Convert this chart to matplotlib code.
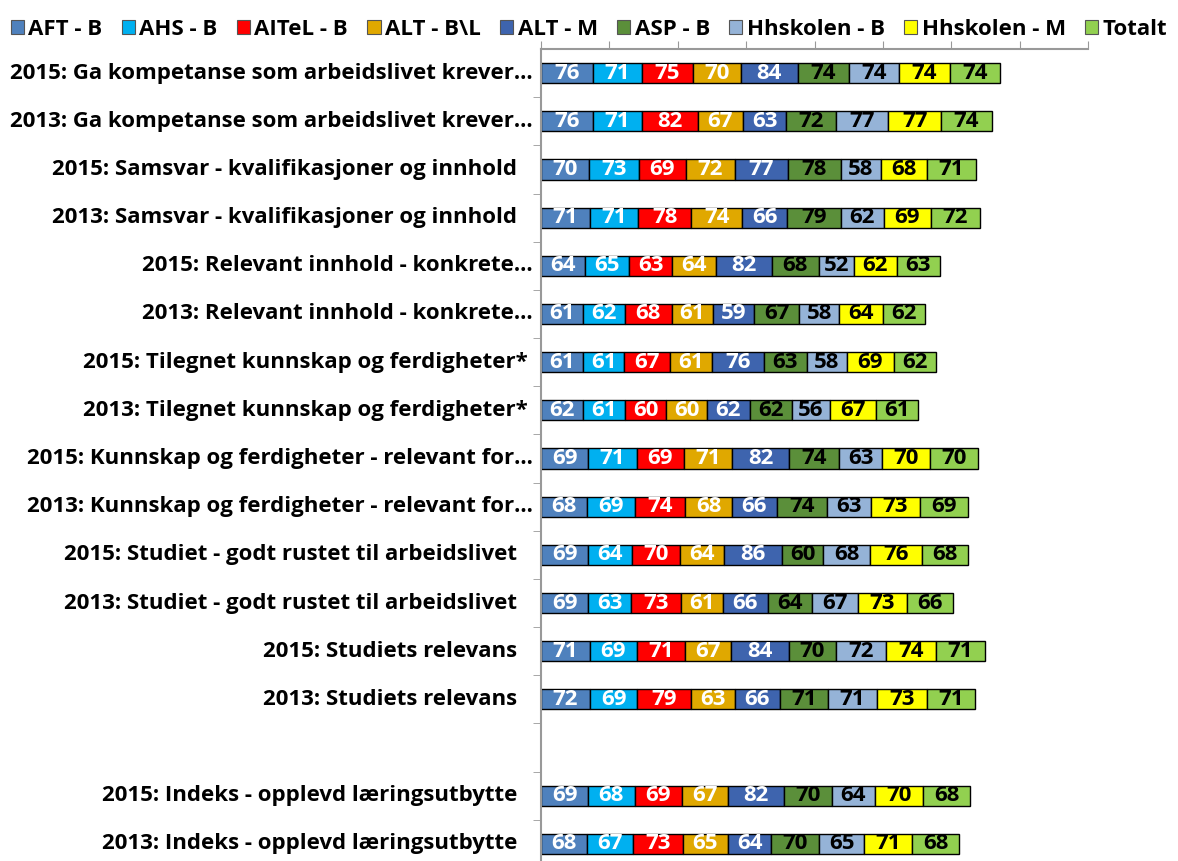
import matplotlib
matplotlib.use('Agg')
import matplotlib.pyplot as plt
from matplotlib.patches import Patch
import numpy as np

plt.rcParams['font.family'] = ['Open Sans', 'DejaVu Sans']
plt.rcParams['font.weight'] = 'bold'

categories = [
    "2015: Ga kompetanse som arbeidslivet krever...",
    "2013: Ga kompetanse som arbeidslivet krever...",
    "2015: Samsvar - kvalifikasjoner og innhold",
    "2013: Samsvar - kvalifikasjoner og innhold",
    "2015: Relevant innhold - konkrete...",
    "2013: Relevant innhold - konkrete...",
    "2015: Tilegnet kunnskap og ferdigheter*",
    "2013: Tilegnet kunnskap og ferdigheter*",
    "2015: Kunnskap og ferdigheter - relevant for...",
    "2013: Kunnskap og ferdigheter - relevant for...",
    "2015: Studiet - godt rustet til arbeidslivet",
    "2013: Studiet - godt rustet til arbeidslivet",
    "2015: Studiets relevans",
    "2013: Studiets relevans",
    "2015: Indeks - opplevd læringsutbytte",
    "2013: Indeks - opplevd læringsutbytte",
]

series = ["AFT - B", "AHS - B", "AITeL - B", "ALT - B\\L", "ALT - M",
          "ASP - B", "Hhskolen - B", "Hhskolen - M", "Totalt"]

aft_b  = [76, 76, 70, 71, 64, 61, 61, 62, 69, 68, 69, 69, 71, 72, 69, 68]
ahs_b  = [71, 71, 73, 71, 65, 62, 61, 61, 71, 69, 64, 63, 69, 69, 68, 67]
aitel  = [75, 82, 69, 78, 63, 68, 67, 60, 69, 74, 70, 73, 71, 79, 69, 73]
alt_bl = [70, 67, 72, 74, 64, 61, 61, 60, 71, 68, 64, 61, 67, 63, 67, 65]
alt_m  = [84, 63, 77, 66, 82, 59, 76, 62, 82, 66, 86, 66, 84, 66, 82, 64]
asp_b  = [74, 72, 78, 79, 68, 67, 63, 62, 74, 74, 60, 64, 70, 71, 70, 70]
hh_b   = [74, 77, 58, 62, 52, 58, 58, 56, 63, 63, 68, 67, 72, 71, 64, 65]
hh_m   = [74, 77, 68, 69, 62, 64, 69, 67, 70, 73, 76, 73, 74, 73, 70, 71]
totalt = [74, 74, 71, 72, 63, 62, 62, 61, 70, 69, 68, 66, 71, 71, 68, 68]

data = [aft_b, ahs_b, aitel, alt_bl, alt_m, asp_b, hh_b, hh_m, totalt]
colors = ["#4F81BD", "#00B0F0", "#FF0000", "#E0A800", "#3E64AE",
          "#5B8F3A", "#95B3D7", "#FFFF00", "#92D050"]
label_colors = ["white"] * 5 + ["black"] * 4

# one empty slot between the item rows and the index rows
ypos = np.array(list(range(14)) + [15, 16])

fig = plt.figure(figsize=(11.78, 8.61), dpi=100)
ax = fig.add_axes([541 / 1178, -7 / 861, 547 / 1178, 819 / 861])

left = np.zeros(len(categories))
for vals, col, lc in zip(data, colors, label_colors):
    vals = np.array(vals)
    bars = ax.barh(ypos, vals, left=left, height=0.42, color=col,
                   edgecolor="black", linewidth=1.0)
    ax.bar_label(bars, labels=[str(v) for v in vals], label_type="center",
                 color=lc, fontsize=16, fontweight="bold")
    left += vals

ax.set_xlim(0, 800)
ax.set_ylim(16.5, -0.5)

# x axis on top, no labels
ax.xaxis.tick_top()
ax.set_xticks(np.arange(0, 801, 100))
ax.tick_params(axis="x", which="major", direction="out", length=6,
               color="#999999", labeltop=False)

# y ticks at category boundaries, labels drawn separately
ax.set_yticks([])
ax.set_yticks(np.arange(0.5, 16.5, 1), minor=True)
ax.tick_params(axis="y", which="minor", direction="out", length=6,
               color="#999999")
for y, lab in zip(ypos, categories):
    if lab.endswith("..."):
        off = -8
    elif lab.endswith("*"):
        off = -13
    else:
        off = -24
    ax.annotate(lab, xy=(0, y), xycoords=("axes fraction", "data"),
                xytext=(off * 0.72, 0), textcoords="offset points",
                ha="right", va="center", fontsize=16, fontweight="bold")

for s in ["right", "bottom"]:
    ax.spines[s].set_visible(False)
for s in ["top", "left"]:
    ax.spines[s].set_color("#999999")
    ax.spines[s].set_linewidth(1.5)

handles = [Patch(facecolor=c, edgecolor="#555555", linewidth=0.8) for c in colors]
fig.legend(handles, series, loc="upper center", bbox_to_anchor=(0.5, 1.0),
           ncol=9, frameon=False, fontsize=16, handlelength=0.6,
           handleheight=0.6, handletextpad=0.2, columnspacing=0.86,
           borderaxespad=0.45)

fig.savefig("out.png", dpi=100)
